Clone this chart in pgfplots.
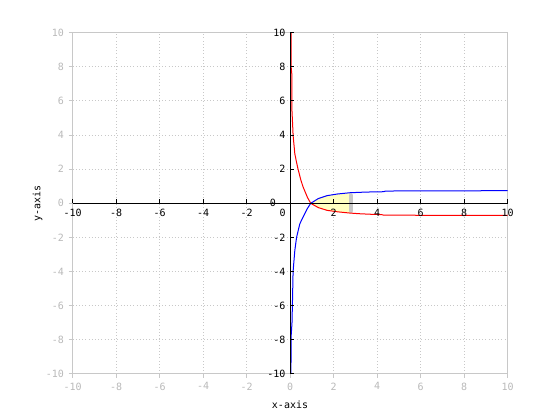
\documentclass[border=0pt]{standalone}
\usepackage{pgfplots}
\pgfplotsset{compat=1.18}
\usepackage{fontspec}
\setmainfont{DejaVu Sans Mono}
\definecolor{bgray}{RGB}{200,200,200}
\definecolor{lblgray}{RGB}{185,185,185}
\definecolor{fillyel}{RGB}{255,255,192}
\newcommand{\gf}{\fontsize{7.5}{9}\selectfont}
\pgfplotsset{common/.style={at={(54.4pt,34.5pt)},anchor=south west,scale only axis,
  width=326.25pt,height=256pt,xmin=-10,xmax=10,ymin=-10,ymax=10,
  /pgf/number format/assume math mode=true,
  tick label style={font=\gf},
  xtick={-10,-8,...,10}, ytick={-10,-8,...,10}}}
\begin{document}
\begin{tikzpicture}[x=1pt,y=1pt]
\useasboundingbox (0,0) rectangle (420,315);
\begin{axis}[common,
  axis line style={bgray, line width=0.75pt},
  tick style={bgray, line width=0.75pt},
  tick align=outside, major tick length=3pt,
  xtick pos=left, ytick pos=left,
  grid=major, grid style={dotted, bgray, line width=0.75pt},
  ticklabel style={text=lblgray},
  xlabel={x-axis}, ylabel={y-axis},
  xlabel style={at={(axis description cs:0.5,0)}, anchor=center, yshift=-23pt, font=\gf},
  ylabel style={at={(axis description cs:-0.08,0.5)}, anchor=center, font=\gf},
  clip=true]
\addplot[fill=fillyel, draw=none] coordinates {
 (0.95,0) (1.3,0.28) (1.7,0.45) (2.2,0.55) (2.8,0.62)
 (2.8,-0.57) (2.2,-0.5) (1.7,-0.41) (1.3,-0.25) (0.95,0)} -- cycle;
\addplot[color=bgray, line width=3.6pt, line cap=round] coordinates {(2.8,0.45) (2.8,-0.42)};
\addplot[red, line width=0.75pt] coordinates {
 (0.05,10.5) (0.05,8) (0.08,7.6) (0.09,5.4) (0.12,4.6) (0.14,4) (0.22,2.9)
 (0.3,2.4) (0.37,2.0) (0.5,1.35) (0.6,0.96) (0.8,0.35) (0.95,0) (1.3,-0.25)
 (1.7,-0.41) (2.2,-0.5) (2.75,-0.57) (3.2,-0.61) (3.7,-0.64) (4.2,-0.66)
 (4.3,-0.69) (6,-0.7) (8,-0.7) (10,-0.7)};
\addplot[blue, line width=0.75pt] coordinates {
 (0.04,-10.5) (0.05,-7.8) (0.09,-7) (0.11,-5.9) (0.14,-4) (0.22,-2.76) (0.3,-2)
 (0.45,-1.2) (0.6,-0.8) (0.8,-0.3) (0.95,0) (1.3,0.28) (1.7,0.45) (2.2,0.55)
 (2.75,0.62) (3.5,0.66) (4.3,0.68) (4.4,0.72) (6,0.73) (10,0.74)};
\end{axis}
\begin{axis}[common,
  axis lines=middle,
  axis line style={black, -, line width=0.8pt},
  tick style={black, line width=0.75pt},
  tick align=inside, major tick length=3pt,
  xtick={-10,-8,-6,-4,-2,2,4,6,8,10},
  ytick={-10,-8,-6,-4,-2,2,4,6,8,10},
  extra x ticks={0}, extra y ticks={0},
  extra x tick style={xticklabel style={xshift=-5.5pt}},
  extra y tick style={yticklabel style={xshift=-7pt}},
  xticklabel style={yshift=-1pt},
  ticklabel style={text=black}]
\addplot[draw=none] coordinates {(0,0)};
\end{axis}
\end{tikzpicture}
\end{document}
